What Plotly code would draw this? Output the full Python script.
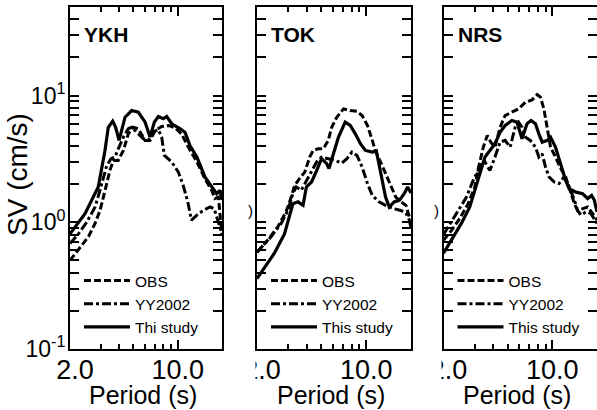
import plotly.graph_objects as go

# ---------------- data (period in s, SV in cm/s) ----------------
stations = ["YKH", "TOK", "NRS"]
study_names = ["Thi study", "This study", "This study"]

# YKH
ykh_obs_T = [1.85, 2.47, 2.74, 2.96, 3.12, 3.29, 3.46, 3.65, 3.94, 4.27, 4.61, 4.99, 5.40, 5.99, 6.48, 7.01, 7.78, 8.64, 9.59, 10.6, 11.8, 13.5, 15.3, 17.0, 17.9, 18.9, 19.5, 20.0]
ykh_obs_sv = [0.50, 0.77, 0.98, 1.24, 1.58, 2.02, 2.57, 3.08, 3.08, 3.69, 4.99, 5.62, 5.47, 4.43, 4.43, 5.30, 5.70, 5.81, 5.57, 4.99, 3.92, 2.99, 2.21, 1.79, 1.54, 1.58, 1.0, 0.79]
ykh_yy_T = [1.85, 2.11, 2.40, 2.74, 2.96, 3.12, 3.29, 3.52, 3.74, 3.94, 4.27, 4.61, 4.86, 5.26, 5.83, 6.31, 6.72, 7.38, 7.78, 8.11, 9.10, 10.1, 10.9, 11.7, 12.4, 13.5, 14.9, 16.6, 17.7, 18.9, 20.0]
ykh_yy_sv = [0.68, 0.81, 1.00, 1.32, 1.79, 2.28, 2.81, 3.18, 3.27, 3.80, 4.70, 5.47, 5.62, 5.14, 4.56, 4.43, 5.14, 5.37, 4.70, 3.37, 2.99, 2.49, 1.95, 1.45, 1.04, 1.14, 1.24, 1.32, 1.28, 1.0, 0.81]
ykh_th_T = [1.85, 2.34, 2.88, 3.20, 3.37, 3.61, 3.78, 3.99, 4.38, 4.86, 5.39, 6.0, 6.48, 6.93, 7.38, 7.98, 8.41, 9.10, 10.4, 11.2, 12.1, 13.5, 15.3, 17.0, 18.4, 19.4, 20.0]
ykh_th_sv = [0.81, 1.17, 1.90, 3.69, 5.62, 6.28, 5.62, 4.43, 6.75, 7.62, 7.39, 6.17, 4.70, 6.17, 6.84, 6.56, 6.84, 5.99, 5.47, 5.14, 4.04, 3.27, 2.28, 1.90, 1.68, 1.79, 1.50]

# TOK
tok_obs_T = [1.85, 2.18, 2.55, 2.90, 3.14, 3.31, 3.57, 3.87, 4.18, 4.41, 4.76, 5.15, 5.57, 5.87, 6.35, 7.05, 7.82, 8.68, 9.39, 10.2, 11.0, 11.6, 12.5, 13.5, 14.6, 15.8, 17.1, 18.5, 19.5, 20.0]
tok_obs_sv = [0.58, 0.72, 0.92, 1.21, 1.58, 1.95, 2.21, 2.49, 3.27, 3.69, 3.80, 3.80, 4.43, 5.62, 6.75, 7.85, 7.62, 7.52, 6.96, 5.81, 4.43, 3.58, 2.99, 2.42, 1.90, 1.58, 1.45, 1.36, 1.10, 0.92]
tok_yy_T = [1.85, 2.30, 2.69, 2.98, 3.22, 3.39, 3.67, 3.97, 4.30, 4.65, 5.02, 5.57, 6.18, 6.87, 7.43, 8.03, 8.68, 9.39, 10.2, 11.0, 12.2, 13.5, 15.4, 17.1, 18.5, 19.5, 20.0]
tok_yy_sv = [0.58, 0.77, 0.98, 1.24, 1.68, 1.90, 1.79, 2.14, 2.57, 2.99, 3.27, 3.18, 3.08, 2.93, 3.18, 3.58, 3.37, 2.73, 2.02, 1.63, 1.45, 1.36, 1.28, 1.24, 1.18, 1.04, 0.90]
tok_th_T = [1.85, 2.07, 2.42, 2.83, 3.06, 3.22, 3.49, 3.77, 3.97, 4.30, 4.65, 5.02, 5.43, 5.63, 6.03, 6.52, 7.23, 7.82, 8.46, 9.15, 9.89, 11.0, 11.7, 12.5, 13.5, 14.3, 15.4, 16.7, 18.0, 19.0, 20.0]
tok_th_sv = [0.36, 0.44, 0.57, 0.81, 1.10, 1.40, 1.45, 1.36, 1.90, 2.08, 2.56, 3.18, 2.90, 2.65, 3.47, 4.70, 6.17, 5.81, 4.99, 4.17, 3.69, 3.58, 3.65, 2.42, 1.58, 1.32, 1.45, 1.49, 1.68, 1.90, 1.70]

# NRS
nrs_obs_T = [1.85, 2.09, 2.38, 2.71, 3.01, 3.17, 3.43, 3.65, 3.85, 4.11, 4.45, 4.81, 5.34, 5.93, 6.58, 7.31, 7.91, 8.32, 8.78, 9.25, 9.73, 10.5, 11.4, 12.3, 13.3, 14.1, 14.8, 16.0, 17.3, 18.7, 20.0]
nrs_obs_sv = [0.72, 0.86, 1.07, 1.40, 1.90, 2.65, 3.92, 4.84, 4.29, 3.92, 5.62, 6.96, 7.39, 7.85, 8.85, 9.25, 10.2, 9.71, 7.85, 5.30, 3.92, 3.27, 2.65, 2.28, 1.68, 1.40, 1.24, 1.28, 1.32, 1.17, 1.04]
nrs_yy_T = [1.85, 2.26, 2.64, 2.93, 3.25, 3.52, 3.80, 4.11, 4.45, 4.81, 5.20, 5.62, 5.93, 6.25, 6.58, 7.11, 7.70, 8.12, 8.55, 9.00, 9.50, 10.3, 11.1, 12.0, 13.0, 14.1, 14.8, 15.6, 16.9, 18.2, 19.2, 20.0]
nrs_yy_sv = [0.80, 1.17, 1.58, 2.14, 2.73, 2.99, 2.56, 3.27, 4.29, 4.43, 3.92, 5.62, 6.17, 5.62, 4.70, 4.43, 3.92, 3.27, 3.47, 2.73, 2.28, 2.08, 2.02, 2.28, 1.90, 1.49, 1.24, 1.14, 1.21, 1.17, 1.07, 0.98]
nrs_th_T = [1.85, 2.09, 2.44, 2.78, 3.01, 3.25, 3.52, 3.80, 4.11, 4.45, 4.81, 5.34, 5.78, 6.25, 6.76, 7.20, 7.70, 8.12, 8.55, 9.25, 9.73, 10.5, 11.4, 12.3, 13.0, 14.4, 16.0, 17.3, 18.4, 19.2, 20.0]
nrs_th_sv = [0.57, 0.72, 0.98, 1.32, 1.79, 2.42, 3.27, 3.69, 4.17, 5.14, 5.81, 6.35, 6.17, 4.56, 5.99, 6.35, 5.99, 4.99, 4.29, 4.43, 4.70, 3.92, 2.90, 2.14, 1.84, 1.73, 1.68, 1.54, 1.63, 1.49, 1.21]

series = [
    (ykh_obs_T, ykh_obs_sv, ykh_yy_T, ykh_yy_sv, ykh_th_T, ykh_th_sv),
    (tok_obs_T, tok_obs_sv, tok_yy_T, tok_yy_sv, tok_th_T, tok_th_sv),
    (nrs_obs_T, nrs_obs_sv, nrs_yy_T, nrs_yy_sv, nrs_th_T, nrs_th_sv),
]

x_label_vals = [2, 10]
x_ticktext = ["2.0", "10.0"]
x_major = [10]
x_minor = [3, 4, 5, 6, 7, 8, 9]
y_ticks = [0.1, 1, 10]
y_ticktext = ["10<sup>-1</sup>", "10<sup>0</sup>", "10<sup>1</sup>"]
y_minor = [0.2, 0.3, 0.4, 0.5, 0.6, 0.7, 0.8, 0.9, 2, 3, 4, 5, 6, 7, 8, 9, 20, 30, 40]
x_title = "Period (s)"
y_title = "SV (cm/s)"

# ---------------- layout geometry ----------------
W, H = 597, 410
panel_px = [(70, 222), (257, 411), (443.5, 597)]
y_dom = [1 - 349 / H, 1 - 7 / H]
X_RANGE = [0.2672, 1.30103]
FONT = "Liberation Sans, Arial, sans-serif"

fig = go.Figure()
legend_ids = ["legend", "legend2", "legend3"]

for i, (st, data) in enumerate(zip(stations, series)):
    xa = "x" if i == 0 else f"x{i+1}"
    ya = "y" if i == 0 else f"y{i+1}"
    oT, oS, yT, yS, tT, tS = data
    fig.add_trace(go.Scatter(x=oT, y=oS, mode="lines", name="OBS", xaxis=xa, yaxis=ya,
                             line=dict(color="black", width=3, dash="7px,3px"),
                             legend=legend_ids[i]))
    fig.add_trace(go.Scatter(x=yT, y=yS, mode="lines", name="YY2002", xaxis=xa, yaxis=ya,
                             line=dict(color="black", width=3, dash="9px,3px,3px,3px"),
                             legend=legend_ids[i]))
    fig.add_trace(go.Scatter(x=tT, y=tS, mode="lines", name=study_names[i], xaxis=xa, yaxis=ya,
                             line=dict(color="black", width=3.2),
                             legend=legend_ids[i]))
    # empty trace that activates the label-carrying overlay x axis (draws nothing)
    fig.add_trace(go.Scatter(x=[], y=[], mode="lines", xaxis=f"x{i+4}", yaxis=ya,
                             showlegend=False, hoverinfo="skip"))

layout = dict(
    width=W, height=H,
    margin=dict(l=0, r=0, t=0, b=0, autoexpand=False),
    paper_bgcolor="white", plot_bgcolor="white",
    font=dict(family=FONT, color="black"),
    annotations=[],
    shapes=[],
)

for i in range(3):
    xk = "xaxis" if i == 0 else f"xaxis{i+1}"
    yk = "yaxis" if i == 0 else f"yaxis{i+1}"
    xname = "x" if i == 0 else f"x{i+1}"
    yname = "y" if i == 0 else f"y{i+1}"
    x0, x1 = panel_px[i]
    # axis with the tick marks (frame)
    layout[xk] = dict(
        type="log", range=X_RANGE, domain=[x0 / W, x1 / W],
        anchor=yname, automargin=False,
        tickmode="array", tickvals=x_major, showticklabels=False,
        ticks="inside", ticklen=9, tickwidth=1.5, tickcolor="black",
        minor=dict(tickmode="array", tickvals=x_minor, ticks="inside", ticklen=5, tickwidth=1.5, tickcolor="black", showgrid=False),
        showline=True, linewidth=2, linecolor="black", mirror="allticks",
        showgrid=False, zeroline=False,
    )
    # overlay axis carrying the tick labels "2.0" and "10.0"
    lk = f"xaxis{i+4}"
    layout[lk] = dict(
        type="log", range=X_RANGE, overlaying=xname, anchor=yname, side="bottom",
        automargin=False, tickmode="array", tickvals=x_label_vals, ticktext=x_ticktext,
        ticks="", showline=False, showgrid=False, zeroline=False,
        tickfont=dict(size=27, family=FONT), ticklabelstandoff=2,
    )
    layout[yk] = dict(
        type="log", range=[-1, 1.69897], domain=y_dom,
        anchor=xname, automargin=False,
        tickmode="array", tickvals=y_ticks, ticktext=y_ticktext,
        ticks="inside", ticklen=9, tickwidth=1.5, tickcolor="black",
        minor=dict(tickmode="array", tickvals=y_minor, ticks="inside", ticklen=5, tickwidth=1.5, tickcolor="black", showgrid=False),
        showline=True, linewidth=2, linecolor="black", mirror="allticks",
        showgrid=False, zeroline=False,
        showticklabels=(i == 0),
        tickfont=dict(size=23, family=FONT), ticklabelstandoff=-2,
    )
    # station label
    layout["annotations"].append(dict(
        text=f"<b>{stations[i]}</b>", xref="paper", yref="paper",
        x=(x0 + 12) / W, y=1 - 35 / H, xanchor="left", yanchor="middle",
        showarrow=False, font=dict(size=21, family=FONT, color="black")))
    # x-axis title
    layout["annotations"].append(dict(
        text=x_title, xref="paper", yref="paper",
        x=((x0 + x1) / 2 - 3) / W, y=1 - 395 / H, xanchor="center", yanchor="middle",
        showarrow=False, font=dict(size=25, family=FONT, color="black")))
    # legend
    lid = legend_ids[i]
    layout[lid] = dict(
        x=(x0 + 9) / W, y=1 - 264 / H, xanchor="left", yanchor="top",
        bgcolor="rgba(0,0,0,0)", borderwidth=0,
        font=dict(size=15.5, family=FONT, color="black"),
        itemwidth=46, tracegroupgap=0,
    )

# y-axis title of the first panel
layout["annotations"].append(dict(
    text=y_title, xref="paper", yref="paper", x=18 / W, y=1 - 175 / H,
    xanchor="center", yanchor="middle", textangle=-90, showarrow=False,
    font=dict(size=28, family=FONT, color="black")))

# cropped remnants at the left of panels 2 and 3
for xp in [250.5, 436.5]:
    layout["annotations"].append(dict(
        text=")", xref="paper", yref="paper", x=xp / W, y=1 - 210 / H,
        xanchor="center", yanchor="middle", showarrow=False,
        font=dict(size=15, family=FONT, color="black")))
    layout["shapes"].append(dict(
        type="rect", xref="paper", yref="paper", layer="above",
        x0=(xp - 30) / W, x1=(xp + 5) / W, y0=1 - 381 / H, y1=1 - 352 / H,
        fillcolor="white", line=dict(width=0)))

fig.update_layout(**layout)
fig.write_html("out.html")
